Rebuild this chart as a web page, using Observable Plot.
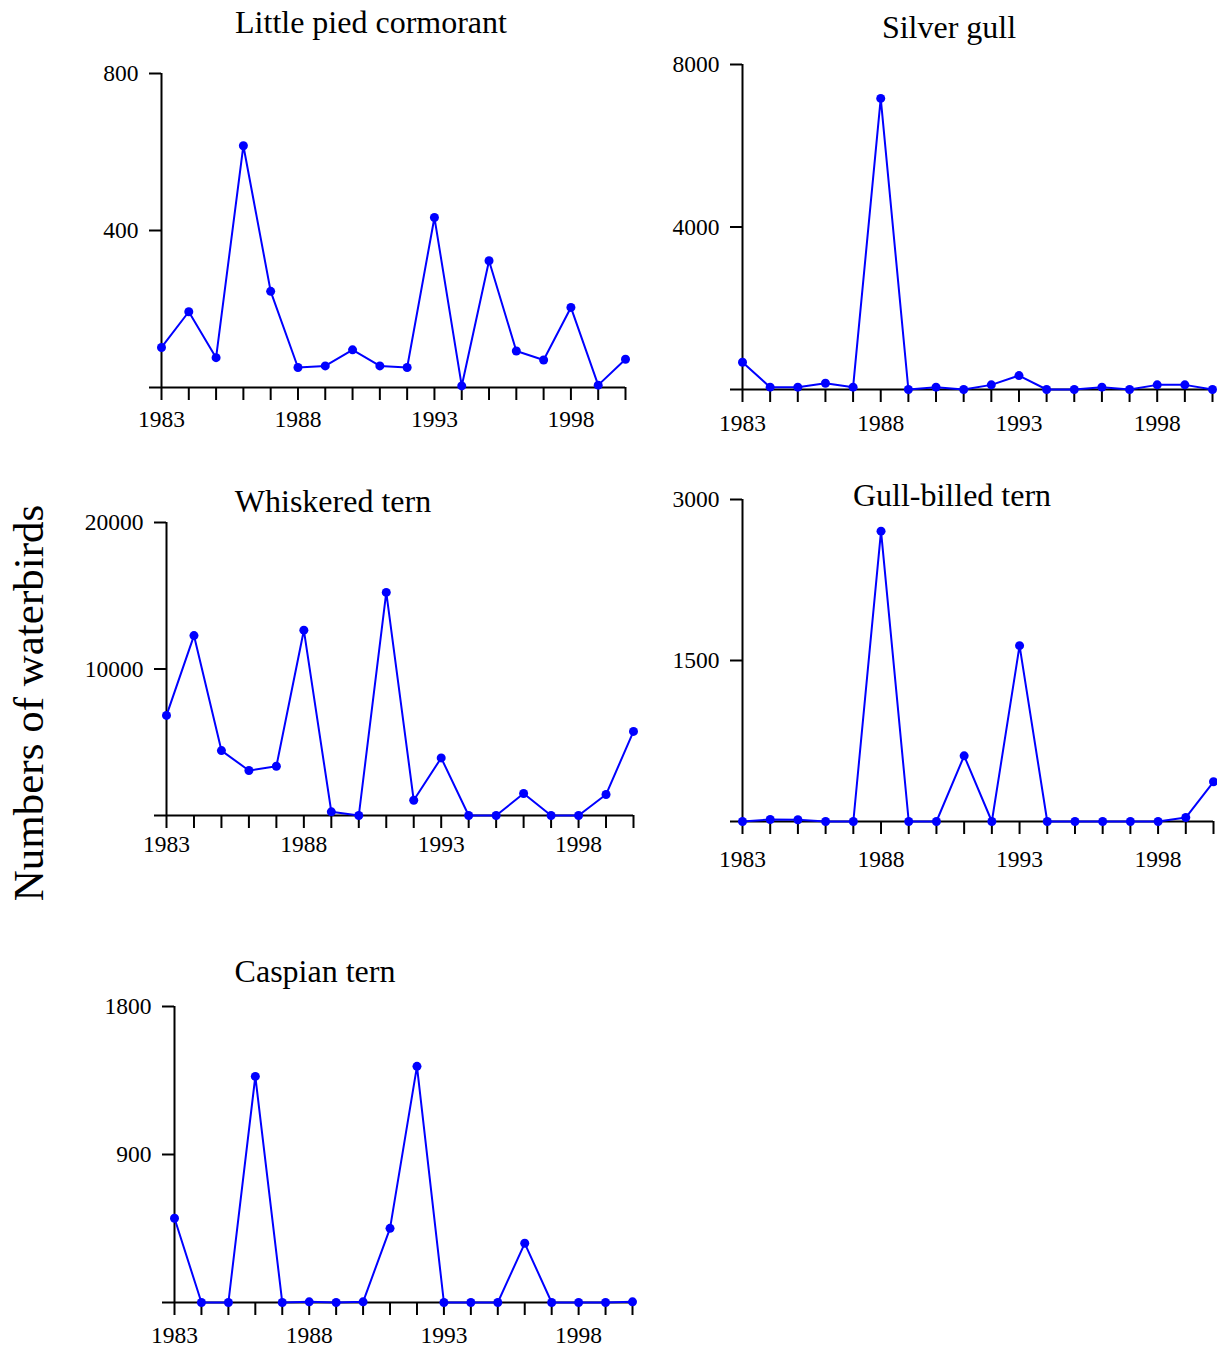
<!DOCTYPE html>
<html><head><meta charset="utf-8">
<script src="https://cdn.jsdelivr.net/npm/d3@7"></script>
<script src="https://cdn.jsdelivr.net/npm/@observablehq/plot@0.6"></script>
<style>
body{margin:0;background:#fff;}
#root{position:relative;width:1217px;height:1351px;overflow:hidden;font-family:"Liberation Serif","Times New Roman",serif;color:#000;}
.panel{position:absolute;}
.panel svg{max-width:none !important;}
.title{position:absolute;font-size:32px;white-space:nowrap;transform:translate(-50%,-50%);line-height:1;}
#ylab{position:absolute;left:28px;top:703px;font-size:43px;line-height:1;white-space:nowrap;transform:translate(-50%,-50%) rotate(-90deg);}
</style></head><body><div id="root"><div id="ylab">Numbers of waterbirds</div></div>
<script>
// ---- data ----
const years = [1983,1984,1985,1986,1987,1988,1989,1990,1991,1992,1993,1994,1995,1996,1997,1998,1999,2000];
const labeledYears = [1983,1988,1993,1998];
const titles = ["Little pied cormorant","Silver gull","Whiskered tern","Gull-billed tern","Caspian tern"];
const littlePiedCormorant = [102,193,76,616,245,51,55,96,55,51,433,4,323,93,70,204,6,72];
const silverGull = [670,57,57,155,57,7165,0,57,0,114,343,0,0,57,0,114,114,0];
const whiskeredTern = [6830,12280,4430,3070,3360,12650,250,0,15230,1040,3930,0,0,1500,0,0,1430,5740];
const gullBilledTern = [0,19,16,0,0,2705,0,0,612,0,1638,0,0,0,0,0,37,370];
const caspianTern = [512,0,0,1375,0,4,0,4,451,1436,0,0,0,360,0,0,0,4];
const seriesList = [littlePiedCormorant, silverGull, whiskeredTern, gullBilledTern, caspianTern];
const yTickSets = [[0,400,800],[0,4000,8000],[0,10000,20000],[0,1500,3000],[0,900,1800]];

// ---- layout (pixel positions of each panel's axes and title) ----
const layout = [
  {x0:161, x1:625, yTop:73,  yBottom:387,  tx:371, ty:22,  xPad:10},
  {x0:742, x1:1212, yTop:64, yBottom:389,  tx:949, ty:27,  xPad:12},
  {x0:166, x1:633, yTop:522, yBottom:815,  tx:333, ty:501, xPad:7},
  {x0:742, x1:1213, yTop:499, yBottom:821, tx:952, ty:495, xPad:16},
  {x0:174, x1:632, yTop:1006, yBottom:1302, tx:315, ty:971, xPad:11}
];

const root = document.getElementById("root");
const mL = 100, mR = 12, mT = 20, mB = 70;
seriesList.forEach((vals, i) => {
  const L = layout[i];
  const yTicks = yTickSets[i];
  const yMax = yTicks[yTicks.length - 1];
  const data = years.map((y, k) => ({year: y, value: vals[k]}));
  const W = (L.x1 - L.x0) + mL + mR;
  const H = (L.yBottom - L.yTop) + mT + mB;
  const plot = Plot.plot({
    width: W,
    height: H,
    marginLeft: mL, marginRight: mR, marginTop: mT, marginBottom: mB,
    style: {fontFamily: '"Liberation Serif","Times New Roman",serif', fontSize: "23.5px", color: "#000", background: "transparent", overflow: "visible", maxWidth: "none"},
    x: {domain: [1983, 2000], label: null},
    y: {domain: [0, yMax], label: null},
    marks: [
      Plot.ruleY([0], {x1: 1983, x2: 2000, stroke: "#000", strokeWidth: 2}),
      Plot.ruleX([1983], {y1: 0, y2: yMax, stroke: "#000", strokeWidth: 2}),
      Plot.axisX({ticks: years, tickSize: 13, tickPadding: L.xPad, strokeWidth: 2, fontSize: 23.5, label: null,
                  tickFormat: d => labeledYears.includes(d) ? String(d) : ""}),
      Plot.axisY({ticks: yTicks, tickSize: 12, tickPadding: 11, strokeWidth: 2, fontSize: 23.5, label: null,
                  tickFormat: d => d === 0 ? "" : String(d)}),
      Plot.line(data, {x: "year", y: "value", stroke: "#0000ff", strokeWidth: 2}),
      Plot.dot(data, {x: "year", y: "value", fill: "#0000ff", r: 4.5})
    ]
  });
  const wrap = document.createElement("div");
  wrap.className = "panel";
  wrap.style.left = (L.x0 - mL) + "px";
  wrap.style.top = (L.yTop - mT) + "px";
  wrap.style.width = W + "px";
  wrap.style.height = H + "px";
  wrap.appendChild(plot);
  root.appendChild(wrap);
  const t = document.createElement("div");
  t.className = "title";
  t.style.left = L.tx + "px";
  t.style.top = L.ty + "px";
  t.textContent = titles[i];
  root.appendChild(t);
});
</script>
</body></html>
